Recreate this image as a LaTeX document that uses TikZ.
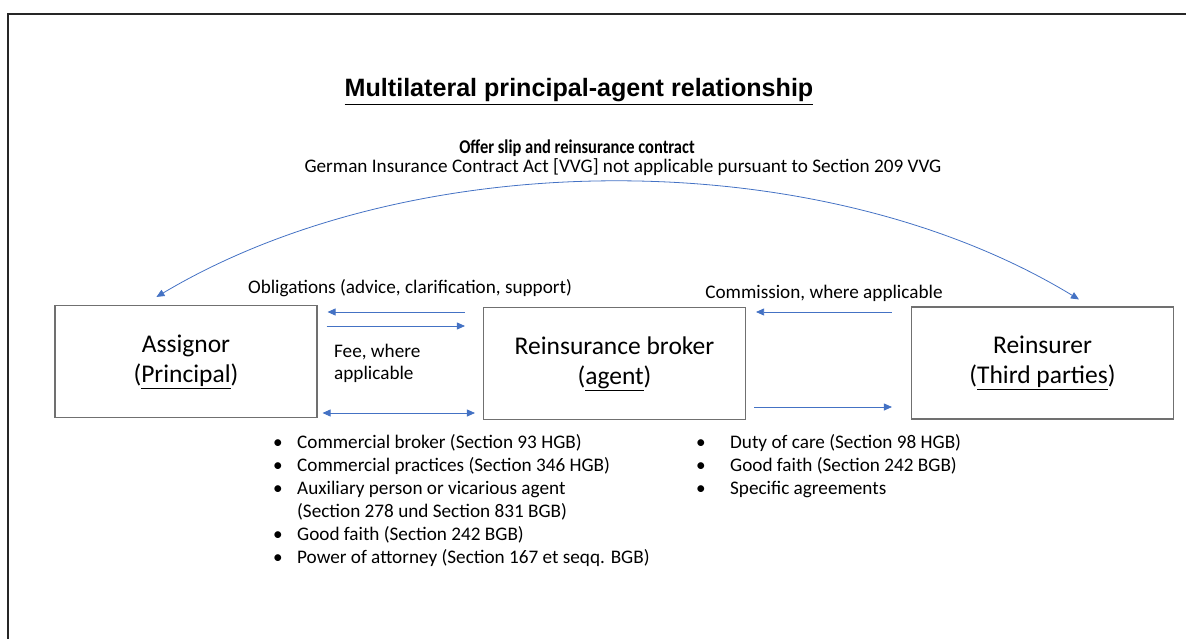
\documentclass[tikz,border=0pt]{standalone}
\usepackage{fontspec}
\setmainfont{Carlito}
\newfontfamily\headfont{Liberation Sans}
\newfontfamily\slipfont{Carlito}[FakeStretch=0.845]
\usetikzlibrary{arrows.meta}
\definecolor{linkblue}{RGB}{68,114,196}
\definecolor{boxgray}{RGB}{112,112,112}
\tikzset{
	party/.style={draw=boxgray, line width=1.1pt, minimum width=262pt, minimum height=112pt, inner sep=0pt, align=center, font=\fontsize{25.5}{30}\selectfont},
	link/.style={draw=linkblue, line width=0.8pt, -{Triangle[width=7pt,length=8pt]}},
	twolink/.style={link, {Triangle[width=7pt,length=8pt]}-{Triangle[width=7pt,length=8pt]}},
	note/.style={inner sep=0pt, font=\fontsize{19.2}{23}\selectfont},
}

\begin{document}
\begin{tikzpicture}[x=1pt, y=-1pt]
		%%%%% START %%%%%
		
		\useasboundingbox (0,0) rectangle (1186,639);
		\draw[line width=1.6pt, black!85] (8,639) -- (8,14) -- (1186,14);
		
		\node[anchor=base, font=\headfont\bfseries\fontsize{25.1}{30}\selectfont] (title) at (579,97) {\underline{Multilateral principal-agent relationship}};
		\node[note, anchor=base, font=\slipfont\bfseries\fontsize{19.5}{23}\selectfont] (slip) at (577,154) {Offer slip and reinsurance contract};
		\node[note, anchor=base] (vvg) at (623,173) {German Insurance Contract Act [VVG] not applicable pursuant to Section 209 VVG};
		
		\node[party] (assignor) at (186,361.5) {Assignor\\(\underline{Principal})};
		\node[party] (broker) at (614.5,363.5) {Reinsurance broker\\(\underline{agent})};
		\node[party] (reinsurer) at (1042.5,363) {Reinsurer\\(\underline{Third parties})};
		
		\draw[twolink] ([xshift=102pt,yshift=8pt]assignor.north west) .. controls (415,143) and (822,143) .. ([xshift=168pt,yshift=7pt]reinsurer.north west);
		
		\draw[link] ([xshift=-18pt]broker.west |- 0,312) -- ([xshift=10pt]assignor.east |- 0,312);
		\draw[link] ([xshift=9pt]assignor.east |- 0,326) -- ([xshift=-18pt]broker.west |- 0,326);
		\draw[twolink] ([xshift=5pt]assignor.east |- 0,413) -- ([xshift=-8pt]broker.west |- 0,413);
		
		\draw[link] ([xshift=-19pt]reinsurer.west |- 0,312) -- ([xshift=10pt]broker.east |- 0,312);
		\draw[link] ([xshift=8pt]broker.east |- 0,407) -- ([xshift=-19pt]reinsurer.west |- 0,407);
		
		\node[note, anchor=base] (obligations) at (410,293) {Obligations (advice, clarification, support)};
		\node[note, anchor=base west, align=left, font=\fontsize{19.2}{22}\selectfont] (fee) at (334,379) {Fee, where\\applicable};
		\node[note, anchor=base] (commission) at (824,298) {Commission, where applicable};
		
		% duties of the broker
		\node[note, anchor=base west] (agentduties) at (273,448) {\begin{tabular}[t]{@{}l@{\hspace{14.4pt}}l@{}}
			\textbullet & Commercial broker (Section 93 HGB)\\
			\textbullet & Commercial practices (Section 346 HGB)\\
			\textbullet & Auxiliary person or vicarious agent\\
			& (Section 278 und Section 831 BGB)\\
			\textbullet & Good faith (Section 242 BGB)\\
			\textbullet & Power of attorney (Section 167 et seqq. BGB)
		\end{tabular}};
		\node[note, anchor=base west] (thirdduties) at (696,448) {\begin{tabular}[t]{@{}l@{\hspace{24.4pt}}l@{}}
			\textbullet & Duty of care (Section 98 HGB)\\
			\textbullet & Good faith (Section 242 BGB)\\
			\textbullet & Specific agreements
		\end{tabular}};
		
		%%%%% END %%%%%
\end{tikzpicture}
\end{document}
